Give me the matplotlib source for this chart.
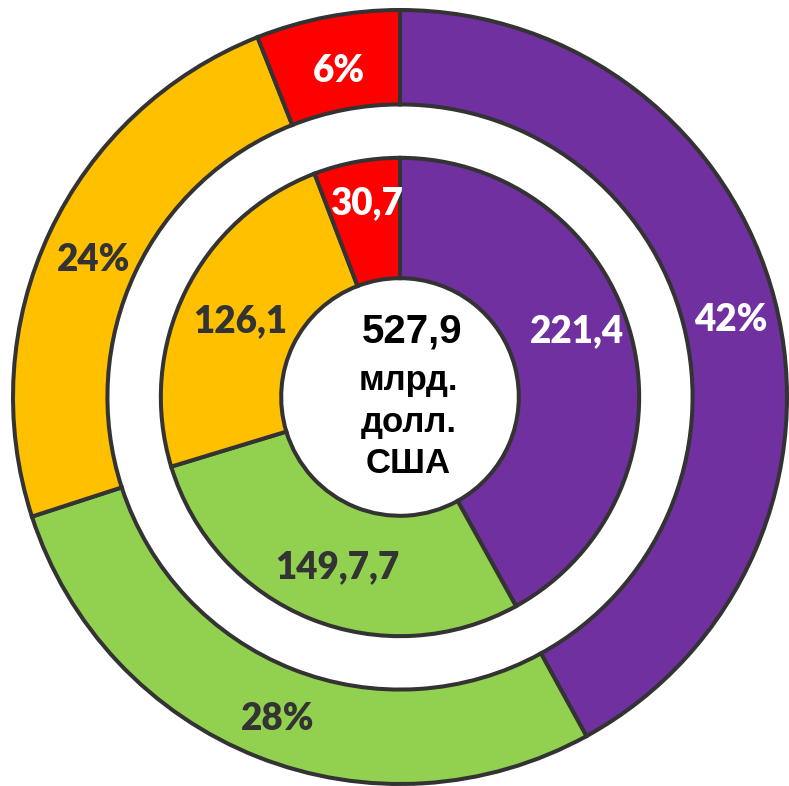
import matplotlib.pyplot as plt

# ---- data ----
segments    = ['purple', 'green', 'orange', 'red']
shares_pct  = [42, 28, 24, 6]                      # outer ring, %
values_bn   = [221.4, 149.7, 126.1, 30.7]          # inner ring, bn USD
inner_texts = ['221,4', '149,7,7', '126,1', '30,7']
total_lines = ['527,9', 'млрд.', 'долл.', 'США']

COLORS      = ['#7030A0', '#92D050', '#FFC000', '#FF0000']
TEXT_COLS   = ['white', '#333333', '#333333', 'white']
EDGE        = '#333333'
LABEL_FONT  = ['Lato', 'DejaVu Sans']
CENTER_FONT = ['Liberation Sans', 'DejaVu Sans']

# geometry (outer radius = 1, 1 unit ~ 387 px)
PX = 1 / 387
R_OUT, W_OUT = 1.0, 0.244
R_IN, W_IN = 0.618, 0.311

# small label nudges (px right, px down) so they sit like the original
OUT_NUDGE = [(2, 8), (3, 6), (1, 8), (3, 8)]
IN_NUDGE  = [(-4, -19), (7, -3), (8, 6), (0, -10)]

fig = plt.figure(figsize=(7.89, 7.86), dpi=100)
ax = fig.add_axes([0, 0, 1, 1])


def style_labels(texts, nudges):
    for t, c, (dx, dy) in zip(texts, TEXT_COLS, nudges):
        x, y = t.get_position()
        t.set_position((x + dx * PX, y - dy * PX))
        t.set_color(c)
        t.set_fontsize(26.5)
        t.set_fontweight('heavy')
        t.set_family(LABEL_FONT)


# outer ring: shares
_, _, auto_out = ax.pie(
    shares_pct, radius=R_OUT, colors=COLORS, startangle=90, counterclock=False,
    autopct='%.0f%%', pctdistance=0.878,
    wedgeprops=dict(width=W_OUT, edgecolor=EDGE, linewidth=2.9),
)
style_labels(auto_out, OUT_NUDGE)

# inner ring: values
it = iter(inner_texts)
_, _, auto_in = ax.pie(
    values_bn, radius=R_IN, colors=COLORS, startangle=90, counterclock=False,
    autopct=lambda p: next(it), pctdistance=0.78,
    wedgeprops=dict(width=W_IN, edgecolor=EDGE, linewidth=2.9),
)
style_labels(auto_in, IN_NUDGE)

# centre caption
ax.text(0.03, 0.168, total_lines[0], ha='center', va='center', fontsize=29,
        fontweight='bold', family=CENTER_FONT, color='black')
for i, line in enumerate(total_lines[1:]):
    ax.text(0.022, 0.043 - i * 0.108, line, ha='center', va='center', fontsize=25,
            fontweight='bold', family=CENTER_FONT, color='black')

ax.set_xlim(-400 * PX, 389 * PX)
ax.set_ylim(-389 * PX, 397 * PX)
ax.set_aspect('equal')
ax.axis('off')

plt.savefig('out.png', dpi=100)
